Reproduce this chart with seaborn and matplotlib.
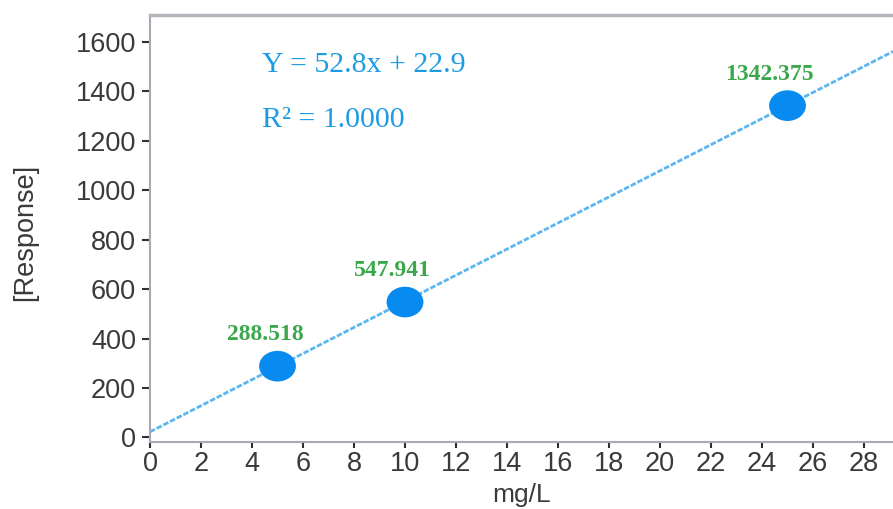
import numpy as np
import pandas as pd
import matplotlib
matplotlib.use("Agg")
import matplotlib.pyplot as plt
from matplotlib.path import Path
from matplotlib.transforms import Affine2D
import seaborn as sns

# Calibration standards (concentration in mg/L) and detector response
concentration = [5, 10, 25]
response = [288.518, 547.941, 1342.375]
point_labels = ["288.518", "547.941", "1342.375"]

# Linear fit reported for the calibration
slope = 52.8
intercept = 22.9
r_squared = "1.0000"

x_ticks = list(range(0, 29, 2))
y_ticks = list(range(0, 1601, 200))

sns.set_theme(style="white")
plt.rcParams["font.family"] = ["Liberation Sans", "DejaVu Sans"]

df = pd.DataFrame({"mg/L": concentration, "[Response]": response})

fig = plt.figure(figsize=(8.93, 5.09), dpi=100)
ax = fig.add_axes([150 / 893, (509 - 441.7) / 509, (893 - 150) / 893, (441.7 - 15) / 509])

# Fitted calibration line
ax.axline((0, intercept), slope=slope, color="#5cb6f0", lw=2.0,
          linestyle=(0, (2.0, 0.7)), zorder=2)

# Slightly wide elliptical markers for the standards
ellipse = Affine2D().scale(1.2, 1.0).transform_path(Path.unit_circle())
sns.scatterplot(data=df, x="mg/L", y="[Response]", ax=ax, marker=ellipse,
                s=26.5 ** 2, color="#078bf0", edgecolor="none", linewidth=0, zorder=3)

for xv, yv, lab in zip(concentration, response, point_labels):
    ax.annotate(lab, (xv, yv), xytext=(19, 22.5), textcoords="offset points",
                ha="right", va="center", color="#3aa84a", fontsize=17,
                fontweight="bold", family="Liberation Serif")

ax.text(4.4, 1507, f"Y = {slope}x + {intercept}", color="#1d9ce4", fontsize=21.5,
        family="Liberation Serif", ha="left", va="center")
ax.text(4.4, 1284, f"R\u00b2 = {r_squared}", color="#1d9ce4", fontsize=21.5,
        family="Liberation Serif", ha="left", va="center")

ax.set_xlim(0, (893 - 150) / 25.5)
ax.set_ylim(-17, 1709)
ax.set_xticks(x_ticks)
ax.set_yticks(y_ticks)

ax.tick_params(axis="both", which="major", labelsize=19.5, labelcolor="#3a3a3a",
               color="#303030", width=1.5, direction="out")
ax.tick_params(axis="y", length=6, pad=4)
ax.tick_params(axis="x", length=4, pad=3)
ax.xaxis.set_ticks_position("bottom")
ax.yaxis.set_ticks_position("left")

ax.set_xlabel("mg/L", fontsize=19, color="#3a3a3a")
ax.set_ylabel("[Response]", fontsize=19.5, color="#3a3a3a")
ax.xaxis.set_label_coords(0.5, -0.097)
ax.yaxis.set_label_coords(-0.15, 0.49)

for side in ("left", "bottom"):
    ax.spines[side].set_color("#a8a8b6")
    ax.spines[side].set_linewidth(1.5)
ax.spines["top"].set_color("#b4b4bc")
ax.spines["top"].set_linewidth(2.5)
ax.spines["right"].set_visible(False)

fig.savefig("out.png", dpi=100, facecolor="white")
